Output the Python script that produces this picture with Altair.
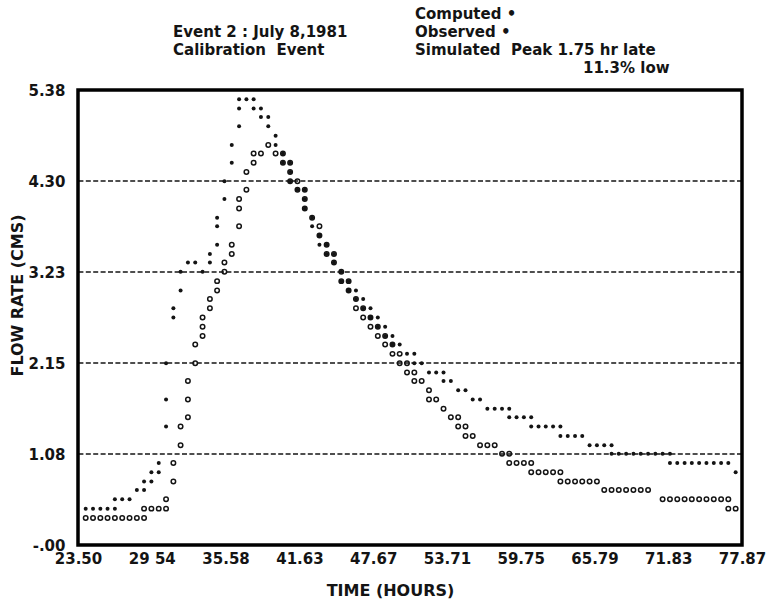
import altair as alt
import pandas as pd

# ---------------- data ----------------
obs_hours = [24.13, 24.73, 25.33, 25.92, 26.52, 27.12, 27.72, 28.32, 28.91, 29.51,
             30.11, 30.71, 31.31, 31.90, 32.50, 33.10, 33.70, 34.30, 34.89, 35.49,
             36.09, 36.69, 37.29, 37.88, 38.48, 39.08, 39.68, 40.28, 40.87, 41.47,
             42.07, 42.67, 43.27, 43.86, 44.46, 45.06, 45.66, 46.26, 46.85, 47.45,
             48.05, 48.65, 49.25, 49.84, 50.44, 51.04, 51.64, 52.24, 52.83, 53.43,
             54.03, 54.63, 55.23, 55.82, 56.42, 57.02, 57.62, 58.22, 58.81, 59.41,
             60.01, 60.61, 61.21, 61.80, 62.40, 63.00, 63.60, 64.20, 64.79, 65.39,
             65.99, 66.59, 67.19, 67.78, 68.38, 68.98, 69.58, 70.18, 70.77, 71.37,
             71.97, 72.57, 73.17, 73.76, 74.36, 74.96, 75.56, 76.16, 76.75, 77.35]
obs_flows = [[0.43], [0.43], [0.43], [0.43], [0.43, 0.54], [0.54], [0.54], [0.65], [0.65, 0.75], [0.75, 0.86],
             [0.86, 0.97], [1.40, 1.72, 2.15], [2.69, 2.80], [3.01, 3.23], [3.34], [3.34], [3.23], [3.34, 3.44], [3.55, 3.77, 3.87], [4.09, 4.30],
             [4.52, 4.73], [4.95, 5.16, 5.27], [5.27], [5.16, 5.27], [5.06, 5.16], [4.95, 5.06], [4.73, 4.84], [4.52, 4.63], [4.30, 4.41, 4.52], [4.20],
             [3.98, 4.09, 4.20], [3.77, 3.87], [3.55, 3.66], [3.44, 3.55], [3.34, 3.44], [3.12, 3.23], [3.01, 3.12], [2.91, 3.01], [2.80, 2.91], [2.69, 2.80],
             [2.58, 2.69], [2.47, 2.58], [2.37, 2.47], [2.37], [2.26], [2.15, 2.26], [2.15], [2.04], [2.04], [1.94, 2.04],
             [1.94], [1.83], [1.83], [1.72], [1.72], [1.61], [1.61], [1.61], [1.51, 1.61], [1.51],
             [1.51], [1.40, 1.51], [1.40], [1.40], [1.40], [1.29, 1.40], [1.29], [1.29], [1.29], [1.18],
             [1.18], [1.18], [1.08, 1.18], [1.08], [1.08], [1.08], [1.08], [1.08], [1.08], [1.08],
             [0.97, 1.08], [0.97], [0.97], [0.97], [0.97], [0.97], [0.97], [0.97], [0.97], [0.86]]

comp_hours = [24.13, 24.73, 25.33, 25.92, 26.52, 27.12, 27.72, 28.32, 28.91, 29.51,
              30.11, 30.71, 31.31, 31.90, 32.50, 33.10, 33.70, 34.30, 34.89, 35.49,
              36.09, 36.69, 37.29, 37.88, 38.48, 39.08, 39.68, 40.28, 40.87, 41.47,
              42.07, 42.67, 43.27, 43.86, 44.46, 45.06, 45.66, 46.26, 46.85, 47.45,
              48.05, 48.65, 49.25, 49.84, 50.44, 51.04, 51.64, 52.24, 52.83, 53.43,
              54.03, 54.63, 55.23, 55.82, 56.42, 57.02, 57.62, 58.22, 58.81, 59.41,
              60.01, 60.61, 61.21, 61.80, 62.40, 63.00, 63.60, 64.20, 64.79, 65.39,
              65.99, 66.59, 67.19, 67.78, 68.38, 68.98, 69.58, 70.18, 71.37,
              71.97, 72.57, 73.17, 73.76, 74.36, 74.96, 75.56, 76.16, 76.75, 77.35]
comp_flows = [[0.32], [0.32], [0.32], [0.32], [0.32], [0.32], [0.32], [0.32], [0.32, 0.43], [0.43],
              [0.43], [0.43, 0.54], [0.75, 0.97], [1.18, 1.40], [1.51, 1.72, 1.94], [2.15, 2.37], [2.47, 2.58, 2.69], [2.80, 2.91], [3.01, 3.12], [3.23, 3.34],
              [3.44, 3.55], [3.77, 3.98, 4.09], [4.20, 4.41], [4.52, 4.63], [4.63], [4.73], [4.63], [4.52, 4.63], [4.30, 4.41, 4.52], [4.20, 4.30],
              [3.98, 4.09, 4.20], [3.87], [3.66, 3.77], [3.44, 3.55], [3.34, 3.44], [3.12, 3.23], [3.01, 3.12], [2.80, 2.91], [2.69, 2.80], [2.58, 2.69],
              [2.47, 2.58], [2.37, 2.47], [2.26, 2.37], [2.15, 2.26], [2.04, 2.15], [1.94, 2.04], [1.94], [1.72, 1.83], [1.72], [1.61],
              [1.51], [1.40, 1.51], [1.29, 1.40], [1.29], [1.18], [1.18], [1.18], [1.08], [0.97, 1.08], [0.97],
              [0.97], [0.86, 0.97], [0.86], [0.86], [0.86], [0.75, 0.86], [0.75], [0.75], [0.75], [0.75],
              [0.75], [0.65], [0.65], [0.65], [0.65], [0.65], [0.65], [0.65], [0.54],
              [0.54], [0.54], [0.54], [0.54], [0.54], [0.54], [0.54], [0.54], [0.43, 0.54], [0.43]]

x_ticks = [23.50, 29.54, 35.58, 41.63, 47.67, 53.71, 59.75, 65.79, 71.83, 77.87]
x_labels = ["23.50", "29 54", "35.58", "41.63", "47.67", "53.71", "59.75", "65.79", "71.83", "77.87"]
y_ticks = [0.0, 1.076, 2.152, 3.228, 4.304, 5.38]
y_labels = ["-.00", "1.08", "2.15", "3.23", "4.30", "5.38"]
grid_levels = [1.076, 2.152, 3.228, 4.304]

# ---------------- tables ----------------
def expand(hours, flows):
    rows = []
    for h, fl in zip(hours, flows):
        for f in fl:
            rows.append({"hours": h, "flow": f})
    return pd.DataFrame(rows)

obs_df = expand(obs_hours, obs_flows)
comp_df = expand(comp_hours, comp_flows)
grid_df = pd.DataFrame({"level": grid_levels})

def label_expr(ticks, labels):
    expr = "'" + labels[-1] + "'"
    for i in range(len(ticks) - 2, -1, -1):
        mid = (ticks[i] + ticks[i + 1]) / 2
        expr = f"datum.value < {mid:.4f} ? '{labels[i]}' : ({expr})"
    return expr

FONT = "DejaVu Sans"
INK = "#141414"

x_scale = alt.Scale(domain=[23.50, 77.87], nice=False, zero=False)
y_scale = alt.Scale(domain=[0, 5.38], nice=False, zero=False)

x_axis = alt.Axis(values=x_ticks, labelExpr=label_expr(x_ticks, x_labels),
                  ticks=False, domain=False, grid=False, labelFlush=False,
                  labelOverlap=False, labelPadding=6, labelFontSize=15,
                  labelFont=FONT, labelFontWeight="bold", labelColor=INK,
                  title="TIME (HOURS)", titleFont=FONT, titleFontSize=16,
                  titleFontWeight="bold", titleColor=INK, titleX=312, titleY=45,
                  titleAlign="center", titleBaseline="middle")
y_axis = alt.Axis(values=y_ticks, labelExpr=label_expr(y_ticks, y_labels),
                  ticks=False, domain=False, grid=False, labelFlush=False,
                  labelOverlap=False, labelPadding=13, labelFontSize=15,
                  labelFont=FONT, labelFontWeight="bold", labelColor=INK,
                  title="FLOW RATE (CMS)", titleFont=FONT, titleFontSize=16,
                  titleFontWeight="bold", titleColor=INK, titleX=-61, titleY=205,
                  titleAngle=270, titleAlign="center", titleBaseline="middle")

grid = alt.Chart(grid_df).mark_rule(color=INK, strokeWidth=1.7, strokeDash=[5, 2.4]).encode(
    y=alt.Y("level:Q", scale=y_scale, axis=y_axis)
)

observed = alt.Chart(obs_df).mark_circle(size=16, color=INK, opacity=1).encode(
    x=alt.X("hours:Q", scale=x_scale, axis=x_axis),
    y=alt.Y("flow:Q", scale=y_scale, axis=y_axis),
)

computed = alt.Chart(comp_df).mark_point(shape="circle", filled=False, size=20,
                                          strokeWidth=1.5, color=INK, opacity=1).encode(
    x=alt.X("hours:Q", scale=x_scale, axis=x_axis),
    y=alt.Y("flow:Q", scale=y_scale, axis=y_axis),
)

one = pd.DataFrame({"a": [0]})

frame = alt.Chart(one).mark_rect(filled=False, stroke="black", strokeWidth=3.5).encode(
    x=alt.value(0), x2=alt.value(664), y=alt.value(0), y2=alt.value(455)
)

def note(text, x, y):
    return alt.Chart(one).mark_text(align="left", baseline="middle", font=FONT,
                                    fontWeight="bold", fontSize=15, color=INK).encode(
        x=alt.value(x), y=alt.value(y), text=alt.value(text))

notes = [
    note("Computed \u2022", 337, -76),
    note("Event 2 : July 8,1981", 95, -58),
    note("Observed \u2022", 337, -58),
    note("Calibration\u00a0\u00a0Event", 95, -40),
    note("Simulated\u00a0\u00a0Peak 1.75 hr late", 337, -40),
    note("11.3% low", 505, -22),
]

chart = alt.layer(grid, observed, computed, frame, *notes).properties(
    width=664, height=455,
    background="white",
    autosize=alt.AutoSizeParams(type="none"),
    padding={"left": 78, "top": 90, "right": 25, "bottom": 57},
).configure_view(stroke=None, strokeWidth=0)

chart.save("out.html", embed_options={"renderer": "svg", "actions": False})
